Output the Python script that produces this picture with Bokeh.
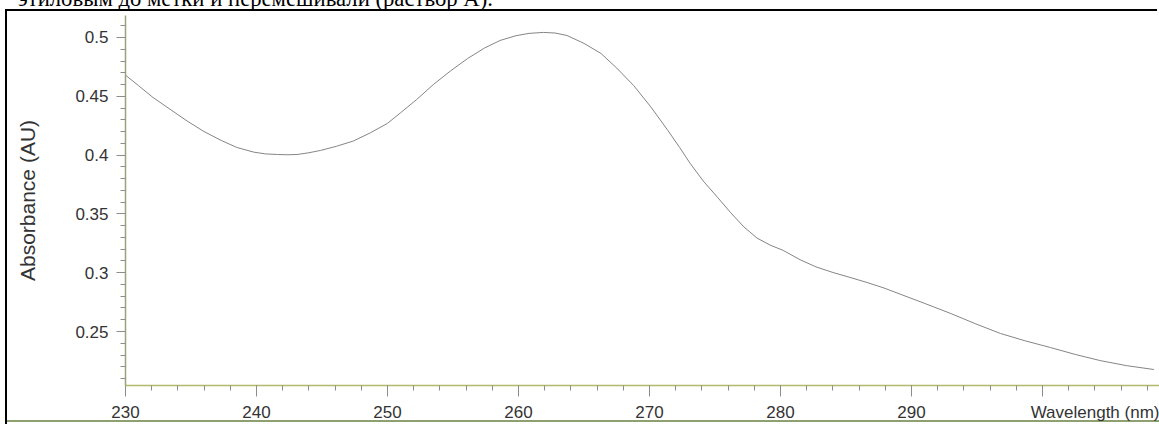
import json
from bokeh.plotting import figure
from bokeh.layouts import column
from bokeh.models import (Div, FixedTicker, CustomJSTickFormatter, Range1d, LinearAxis)
from bokeh.embed import file_html
from bokeh.resources import INLINE

# ---- data ----
wavelength_nm = [230.0, 231.0, 232.1, 233.4, 234.7, 236.0, 237.3, 238.5, 239.8, 240.7,
                 241.6, 242.4, 243.1, 244.0, 244.9, 246.1, 247.4, 248.7, 250.0, 251.0,
                 252.2, 253.5, 254.8, 256.1, 257.4, 258.6, 259.8, 260.8, 261.9, 262.8,
                 263.7, 265.0, 266.3, 267.5, 268.8, 270.1, 271.4, 272.3, 273.1, 274.1,
                 275.2, 276.2, 277.2, 278.2, 279.2, 280.2, 281.5, 282.7, 284.0, 285.3,
                 286.6, 287.9, 289.2, 291.1, 293.0, 294.9, 296.8, 298.7, 300.6, 302.5,
                 304.4, 306.4, 308.5]
absorbance_au = [0.468, 0.459, 0.449, 0.439, 0.429, 0.420, 0.4125, 0.4065, 0.4025, 0.401,
                 0.4005, 0.4003, 0.4005, 0.402, 0.404, 0.4075, 0.412, 0.419, 0.427, 0.436,
                 0.447, 0.460, 0.4715, 0.482, 0.491, 0.4975, 0.5015, 0.5035, 0.5043, 0.5038,
                 0.5017, 0.495, 0.4864, 0.474, 0.459, 0.441, 0.421, 0.4065, 0.393, 0.378,
                 0.364, 0.351, 0.339, 0.3295, 0.3235, 0.319, 0.311, 0.305, 0.3002, 0.296,
                 0.2917, 0.287, 0.2815, 0.2735, 0.2653, 0.2565, 0.2483, 0.242, 0.2364, 0.2305,
                 0.2253, 0.221, 0.2177]

x_major_ticks = [230, 240, 250, 260, 270, 280, 290, 300]
x_minor_ticks = [v for v in range(230, 310, 2)]
y_major_ticks = [0.25, 0.3, 0.35, 0.4, 0.45, 0.5]
y_minor_ticks = [0.21, 0.22, 0.23, 0.24, 0.26, 0.27, 0.28, 0.29, 0.31, 0.32, 0.33, 0.34,
                 0.36, 0.37, 0.38, 0.39, 0.41, 0.42, 0.43, 0.44, 0.46, 0.47, 0.48, 0.49, 0.51]

x_title = "Wavelength (nm)"
y_title = "Absorbance (AU)"
caption = "этиловым до метки и перемешивали (раствор А)."

font = "Liberation Sans"

p = figure(width=1152, height=413, output_backend="svg", toolbar_location=None,
           x_range=Range1d(230, 308.93), y_range=Range1d(0.2041, 0.5187),
           min_border_left=118, min_border_right=0, min_border_top=4, min_border_bottom=39,
           x_axis_location=None, y_axis_location=None)
p.margin = (0, 0, 0, 7)
p.styles = {"box-shadow": ("inset 0 -2px 0 0 #ffffff, inset 0 -4px 0 0 #8fa070, "
                           "-2px 0 0 0 #000, -2px -2px 0 0 #000"),
            "background-color": "white"}
p.outline_line_color = None
p.grid.visible = False
p.background_fill_color = "white"
p.border_fill_color = None

p.line(wavelength_nm, absorbance_au, line_color="#858585", line_width=1.0)

# x-axis: the title sits in the tick-label row in place of the "300" label
pad = "\u00a0" * 28
x_code = "return tick == 300 ? %s : tick.toString();" % json.dumps(pad + x_title)
xaxis = LinearAxis(ticker=FixedTicker(ticks=x_major_ticks, minor_ticks=x_minor_ticks),
                   formatter=CustomJSTickFormatter(code=x_code))
xaxis.axis_line_color = "#b3b86a"
xaxis.axis_line_width = 1.5
xaxis.major_tick_line_color = "#8c8c8c"
xaxis.minor_tick_line_color = "#8c8c8c"
xaxis.major_tick_out = 11
xaxis.major_tick_in = 0
xaxis.minor_tick_out = 5
xaxis.minor_tick_in = 0
xaxis.major_label_standoff = 6
xaxis.major_label_text_font = font
xaxis.major_label_text_font_size = "17px"
xaxis.major_label_text_color = "#333333"
p.add_layout(xaxis, "below")

yaxis = LinearAxis(ticker=FixedTicker(ticks=y_major_ticks, minor_ticks=y_minor_ticks),
                   formatter=CustomJSTickFormatter(code="return tick.toString();"))
yaxis.axis_line_color = "#9aa27a"
yaxis.axis_line_width = 1.5
yaxis.major_tick_line_color = "#8c8c8c"
yaxis.minor_tick_line_color = "#8c8c8c"
yaxis.major_tick_out = 9
yaxis.major_tick_in = 0
yaxis.minor_tick_out = 5
yaxis.minor_tick_in = 0
yaxis.major_label_standoff = 8
yaxis.major_label_text_font = font
yaxis.major_label_text_font_size = "17px"
yaxis.major_label_text_color = "#333333"
yaxis.axis_label = y_title
yaxis.axis_label_text_font = font
yaxis.axis_label_text_font_size = "21px"
yaxis.axis_label_text_font_style = "normal"
yaxis.axis_label_text_color = "#333333"
yaxis.axis_label_standoff = 33
p.add_layout(yaxis, "left")

# caption line of the surrounding document (cut off at the top of the page)
cap = Div(text=('<div style="font-family: \'Liberation Serif\'; font-size: 22.7px; '
                'line-height: 20px; white-space: nowrap; color: #000;">%s</div>' % caption),
          width=900, height=22, margin=(-11, 0, 0, 18))

layout = column(cap, p, spacing=0)
open("out.html", "w").write(file_html(layout, INLINE))
